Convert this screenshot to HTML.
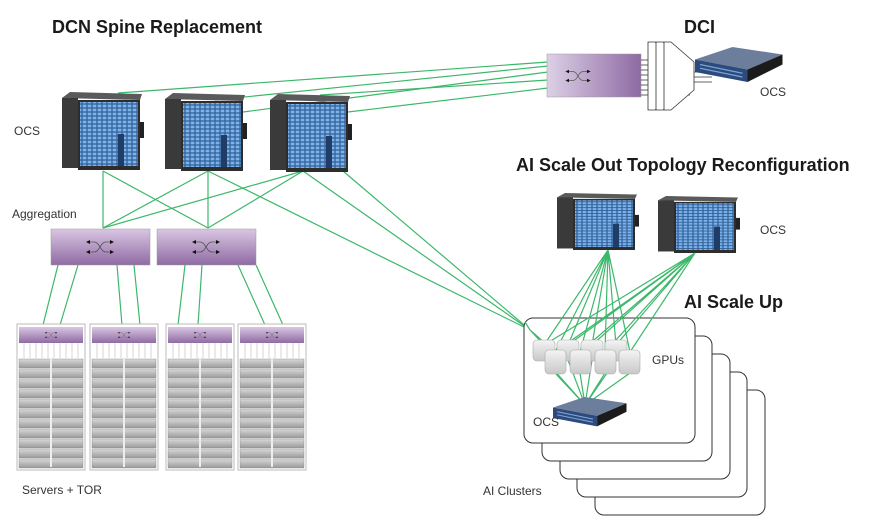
<!DOCTYPE html>
<html><head><meta charset="utf-8"><style>
html,body{margin:0;padding:0;background:#fff;}
svg{display:block;}
text{font-family:"Liberation Sans","DejaVu Sans",sans-serif;fill:#222;}
.t{font-weight:bold;font-size:18px;fill:#1a1a1a;}
.l{font-size:12px;fill:#333;}
.g{stroke:#3cb86a;stroke-width:1.2;fill:none;}
</style></head><body>
<svg width="874" height="524" viewBox="0 0 874 524" xmlns="http://www.w3.org/2000/svg">
<defs>
<linearGradient id="pur" x1="0" y1="0" x2="0" y2="1"><stop offset="0" stop-color="#d9c6e3"/><stop offset="1" stop-color="#8f6ba3"/></linearGradient>
<linearGradient id="purh" x1="0" y1="0" x2="1" y2="0"><stop offset="0" stop-color="#ddd0e6"/><stop offset="1" stop-color="#8e6aa3"/></linearGradient>
<linearGradient id="srv" x1="0" y1="0" x2="0" y2="1"><stop offset="0" stop-color="#d8d8d8"/><stop offset="1" stop-color="#9a9a9a"/></linearGradient>
<linearGradient id="gpu" x1="0" y1="0" x2="0" y2="1"><stop offset="0" stop-color="#f4f4f4"/><stop offset="1" stop-color="#c8c8c8"/></linearGradient>
<pattern id="blue" width="5" height="4" patternUnits="userSpaceOnUse"><rect width="5" height="4" fill="#2e5f99"/><rect x="0.6" y="0.6" width="3.8" height="2.8" fill="#7fb2e8"/></pattern>
<g id="ocs">
  <polygon points="0,6 8,0 80,2 78,8" fill="#5a5a5a"/>
  <rect x="0" y="6" width="16" height="70" fill="#3a3a3a"/>
  <polygon points="16,8 78,8 78,78 16,78" fill="#2d2d2d"/>
  <rect x="18" y="10" width="58" height="64" fill="url(#blue)"/>
  <rect x="56" y="42" width="6" height="32" fill="#1f3d66"/>
  <rect x="78" y="30" width="4" height="16" fill="#222"/>
</g>
<g id="srvbox">
  <polygon points="0,10 30,0 70,6 42,18" fill="#6c7e9c"/>
  <polygon points="0,10 42,18 42,28 0,20" fill="#2c4a7c"/>
  <polygon points="42,18 70,6 70,14 42,28" fill="#1b1b1b"/>
  <path d="M4,14 L38,21 M4,17 L38,24" stroke="#7aa2d6" stroke-width="1"/>
</g>
<g id="sw">
  <path d="M-12,-5 L-6,-5 C0,-5 0,5 6,5 L12,5 M-12,5 L-6,5 C0,5 0,-5 6,-5 L12,-5" stroke="#555" stroke-width="0.8" fill="none"/>
  <path d="M-14,-5 l4,-2 v4z M-14,5 l4,-2 v4z M14,-5 l-4,-2 v4z M14,5 l-4,-2 v4z" fill="#111"/>
</g>
</defs>

<g class="g">
  <line x1="118" y1="93" x2="548" y2="62"/>
  <line x1="215" y1="100" x2="548" y2="66"/>
  <line x1="243" y1="112" x2="548" y2="72"/>
  <line x1="320" y1="95" x2="548" y2="80"/>
  <line x1="348" y1="112" x2="548" y2="88"/>
  <line x1="103" y1="171" x2="103" y2="228"/><line x1="103" y1="171" x2="208" y2="228"/>
  <line x1="208" y1="171" x2="103" y2="228"/><line x1="208" y1="171" x2="208" y2="228"/>
  <line x1="303" y1="171" x2="103" y2="228"/><line x1="303" y1="171" x2="208" y2="228"/>
  <line x1="208" y1="171" x2="530" y2="330"/>
  <line x1="303" y1="171" x2="530" y2="330"/>
  <line x1="330" y1="160" x2="530" y2="330"/>
  <line x1="58" y1="265" x2="43" y2="325"/><line x1="78" y1="265" x2="60" y2="325"/>
  <line x1="117" y1="265" x2="122" y2="325"/><line x1="134" y1="265" x2="140" y2="325"/>
  <line x1="185" y1="265" x2="178" y2="325"/><line x1="202" y1="265" x2="198" y2="325"/>
  <line x1="238" y1="265" x2="265" y2="325"/><line x1="256" y1="265" x2="283" y2="325"/>
</g>

<rect x="547" y="54" width="94" height="43" fill="url(#purh)" stroke="#999" stroke-width="0.5"/>
<use href="#sw" transform="translate(578,76) scale(0.9)"/>
<g stroke="#333" stroke-width="0.8" fill="#fff">
  <path d="M641,60 H690 M641,65 H690 M641,70 H690 M641,75 H690 M641,80 H690 M641,85 H690 M641,90 H690 M641,95 H690"/>
  <polygon points="648,42 655,42 678,62 678,90 655,110 648,110"/>
  <polygon points="656,42 663,42 686,62 686,90 663,110 656,110"/>
  <polygon points="664,42 671,42 694,62 694,90 671,110 664,110"/>
  <path d="M694,72 H712 M694,77 H712 M694,82 H712" fill="none"/>
</g>
<g transform="translate(695,47) scale(1.25)"><use href="#srvbox"/></g>

<use href="#ocs" x="62" y="92"/>
<use href="#ocs" x="165" y="93"/>
<use href="#ocs" x="270" y="94"/>
<use href="#ocs" transform="translate(557,193) scale(1,0.73)"/>
<use href="#ocs" transform="translate(658,196) scale(1,0.73)"/>

<rect x="51" y="229" width="99" height="36" fill="url(#pur)" stroke="#999" stroke-width="0.5"/>
<rect x="157" y="229" width="99" height="36" fill="url(#pur)" stroke="#999" stroke-width="0.5"/>
<use href="#sw" transform="translate(100,247)"/>
<use href="#sw" transform="translate(206,247)"/>

<g id="rack">
  <rect x="17" y="324" width="68" height="146" fill="#fff" stroke="#bbb"/>
  <rect x="19" y="327" width="64" height="16" fill="url(#pur)"/>
  <path d="M24,343 V358 M30,343 V358 M36,343 V358 M42,343 V358 M48,343 V358 M54,343 V358 M60,343 V358 M66,343 V358 M72,343 V358 M78,343 V358" stroke="#bbb" stroke-width="0.6"/>
  <g fill="url(#srv)" stroke="#888" stroke-width="0.4">
    <rect x="19" y="359" width="64" height="9"/><rect x="19" y="369" width="64" height="9"/><rect x="19" y="379" width="64" height="9"/>
    <rect x="19" y="389" width="64" height="9"/><rect x="19" y="399" width="64" height="9"/><rect x="19" y="409" width="64" height="9"/>
    <rect x="19" y="419" width="64" height="9"/><rect x="19" y="429" width="64" height="9"/><rect x="19" y="439" width="64" height="9"/>
    <rect x="19" y="449" width="64" height="9"/><rect x="19" y="459" width="64" height="9"/>
  </g>
  <path d="M51,359 V467" stroke="#eee" stroke-width="2"/>
  <use href="#sw" transform="translate(51,335) scale(0.45)"/>
</g>
<use href="#rack" x="73"/>
<use href="#rack" x="149"/>
<use href="#rack" x="221"/>

<g fill="#fff" stroke="#333" stroke-width="1">
  <rect x="595" y="390" width="170" height="125" rx="9"/>
  <use href="#srvbox" transform="translate(648,474) scale(0.8)"/>
  <rect x="577" y="372" width="170" height="125" rx="9"/>
  <use href="#srvbox" transform="translate(630,456) scale(0.8)"/>
  <rect x="560" y="354" width="170" height="125" rx="9"/>
  <use href="#srvbox" transform="translate(613,438) scale(0.8)"/>
  <rect x="542" y="336" width="170" height="125" rx="9"/>
  <use href="#srvbox" transform="translate(595,420) scale(0.8)"/>
  <rect x="524" y="318" width="171" height="125" rx="9"/>
</g>
<g class="g">
  <path d="M608,250 L544,345 M608,250 L568,345 M608,250 L592,345 M608,250 L616,345 M608,250 L555,352 M608,250 L580,352 M608,250 L605,352 M608,250 L630,352"/>
  <path d="M695,253 L544,345 M695,253 L568,345 M695,253 L592,345 M695,253 L616,345 M695,253 L555,352 M695,253 L580,352 M695,253 L605,352 M695,253 L630,352"/>
  <path d="M544,345 L530,330 M555,352 L530,330 M525,322 L530,330"/>
  <path d="M555,373 L585,405 M580,373 L585,405 M605,373 L585,405 M630,373 L585,405 M545,360 L585,405 M568,360 L585,405 M592,360 L585,405 M616,360 L585,405"/>
</g>
<g fill="url(#gpu)" stroke="#aaa" stroke-width="0.6">
  <rect x="533" y="340" width="22" height="21" rx="4"/><rect x="557" y="340" width="22" height="21" rx="4"/>
  <rect x="581" y="340" width="22" height="21" rx="4"/><rect x="605" y="340" width="22" height="21" rx="4"/>
  <rect x="545" y="350" width="21" height="24" rx="4"/><rect x="570" y="350" width="21" height="24" rx="4"/>
  <rect x="595" y="350" width="21" height="24" rx="4"/><rect x="619" y="350" width="21" height="24" rx="4"/>
</g>
<use href="#srvbox" transform="translate(553,397) scale(1.05)"/>

<text class="t" x="52" y="33">DCN Spine Replacement</text>
<text class="t" x="684" y="33">DCI</text>
<text class="t" x="516" y="171">AI Scale Out Topology Reconfiguration</text>
<text class="t" x="684" y="308">AI Scale Up</text>
<text class="l" x="14" y="135">OCS</text>
<text class="l" x="760" y="96">OCS</text>
<text class="l" x="760" y="234">OCS</text>
<text class="l" x="533" y="426">OCS</text>
<text class="l" x="12" y="218">Aggregation</text>
<text class="l" x="652" y="364">GPUs</text>
<text class="l" x="22" y="494">Servers + TOR</text>
<text class="l" x="483" y="495">AI Clusters</text>
</svg>
</body></html>
